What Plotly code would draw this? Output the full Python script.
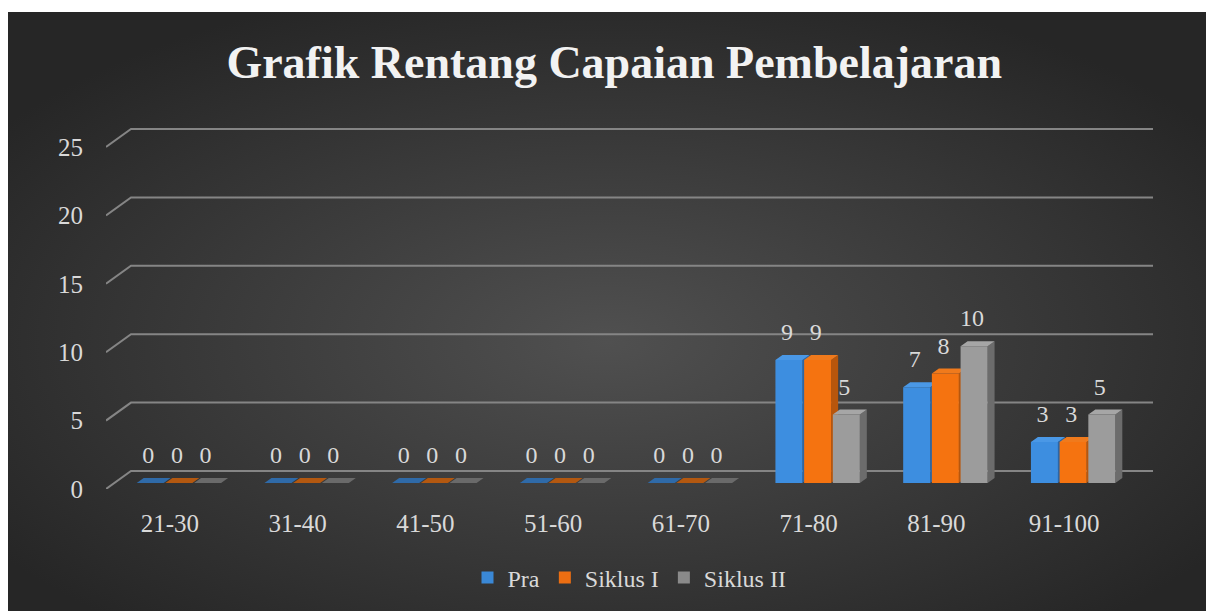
import base64
import plotly.graph_objects as go

# ---------------- data ----------------
categories = ["21-30", "31-40", "41-50", "51-60", "61-70", "71-80", "81-90", "91-100"]
pra = [0, 0, 0, 0, 0, 9, 7, 3]
siklus_1 = [0, 0, 0, 0, 0, 9, 8, 3]
siklus_2 = [0, 0, 0, 0, 0, 5, 10, 5]
series_names = ["Pra", "Siklus I", "Siklus II"]
y_ticks = [0, 5, 10, 15, 20, 25]
title_text = "Grafik Rentang Capaian Pembelajaran"

# ---------------- styles ----------------
front_colors = ["#3d8ee0", "#f57310", "#9c9c9c"]
top_colors = ["#4a98e6", "#f07a1c", "#a6a6a6"]
side_colors = ["#2c66a6", "#b8560c", "#6c6c6c"]
flat_colors = ["#2f6aa8", "#b35810", "#6a6a6a"]
legend_colors = ["#3a88d6", "#ec6e12", "#8a8a8a"]
grid_color = "#858585"
text_color = "#d9d9d9"
FONT = "Liberation Serif"

W, H = 1198, 599
ML, MR, MT, MB = 98, 53, 108, 122
PW = W - ML - MR
PH = H - MT - MB
BACK_DX_PX, BACK_DY_PX = 25, 18
PPX = (PW - BACK_DX_PX) / len(categories)
PPY = 13.68
DXB = BACK_DX_PX / PPX
DYB = BACK_DY_PX / PPY
X_MIN = -0.5
X_MAX_FRONT = len(categories) - 0.5

GROUP_SHIFT = 9 / PPX
BASE = 6 / PPY
BAR_W = 27 / PPX
BAR_SP = 28.7 / PPX
SX = 7 / PPX
SY = 5 / PPY
LABEL_OFF = 26 / PPY

fig = go.Figure()

# legend entries (bar symbols)
for k in range(3):
    fig.add_trace(go.Bar(x=[None], y=[None], name=series_names[k],
                         marker=dict(color=legend_colors[k], line=dict(width=0)),
                         showlegend=True, hoverinfo="skip"))

# back wall / floor grid lines with perspective connector
gx, gy = [], []
for v in y_ticks:
    gx += [X_MIN, X_MIN + DXB, X_MAX_FRONT + DXB, None]
    gy += [v, v + DYB, v + DYB, None]
fig.add_trace(go.Scatter(x=gx, y=gy, mode="lines", line=dict(color=grid_color, width=2),
                         showlegend=False, hoverinfo="skip"))

all_series = [pra, siklus_1, siklus_2]
lab_x, lab_y, lab_t = [], [], []
for k, vals in enumerate(all_series):
    fx, fy, sx_, sy_, tx, ty, zx, zy = [], [], [], [], [], [], [], []
    for i, v in enumerate(vals):
        xc = i + GROUP_SHIFT + (k - 1) * BAR_SP
        xl, xr = xc - BAR_W / 2, xc + BAR_W / 2
        b, t = BASE, BASE + v
        top_poly_x = [xl, xr, xr + SX, xl + SX, xl, None]
        top_poly_y = [t, t, t + SY, t + SY, t, None]
        if v > 0:
            fx += [xl, xr, xr, xl, xl, None]
            fy += [b, b, t, t, b, None]
            sx_ += [xr, xr + SX, xr + SX, xr, xr, None]
            sy_ += [b, b + SY, t + SY, t, b, None]
            tx += top_poly_x
            ty += top_poly_y
        else:
            zx += top_poly_x
            zy += top_poly_y
        lab_x.append(xc - 2 / PPX)
        lab_y.append(t + LABEL_OFF)
        lab_t.append(str(v))
    if zx:
        fig.add_trace(go.Scatter(x=zx, y=zy, mode="lines", fill="toself", fillcolor=flat_colors[k],
                                 line=dict(width=0, color=flat_colors[k]), showlegend=False,
                                 hoverinfo="skip"))
    if sx_:
        fig.add_trace(go.Scatter(x=sx_, y=sy_, mode="lines", fill="toself", fillcolor=side_colors[k],
                                 line=dict(width=0, color=side_colors[k]), showlegend=False,
                                 hoverinfo="skip"))
        fig.add_trace(go.Scatter(x=tx, y=ty, mode="lines", fill="toself", fillcolor=top_colors[k],
                                 line=dict(width=0, color=top_colors[k]), showlegend=False,
                                 hoverinfo="skip"))
    if fx:
        fig.add_trace(go.Scatter(x=fx, y=fy, mode="lines", fill="toself", fillcolor=front_colors[k],
                                 line=dict(width=0, color=front_colors[k]),
                                 name=series_names[k], showlegend=False, hoverinfo="skip"))

fig.add_trace(go.Scatter(x=lab_x, y=lab_y, mode="text", text=lab_t, textposition="middle center",
                         textfont=dict(family=FONT, size=24, color=text_color),
                         showlegend=False, hoverinfo="skip"))

# background radial gradient
svg = (
    '<svg xmlns="http://www.w3.org/2000/svg" width="1198" height="599" viewBox="0 0 1198 599" '
    'preserveAspectRatio="none"><defs><radialGradient id="g" cx="0.5" cy="0.55" r="0.62">'
    '<stop offset="0" stop-color="#505050"/><stop offset="1" stop-color="#262626"/>'
    '</radialGradient></defs><rect width="1198" height="599" fill="url(#g)"/></svg>'
)
src = "data:image/svg+xml;base64," + base64.b64encode(svg.encode()).decode()

fig.update_layout(
    width=W, height=H,
    margin=dict(l=ML, r=MR, t=MT, b=MB, pad=0),
    paper_bgcolor="#303030",
    plot_bgcolor="rgba(0,0,0,0)",
    barmode="overlay",
    images=[dict(source=src, xref="paper", yref="paper", x=-ML / PW, y=1 + MT / PH,
                 sizex=W / PW, sizey=H / PH, sizing="stretch", layer="below",
                 xanchor="left", yanchor="top")],
    title=dict(text=title_text, x=0.506, xanchor="center", y=1 - 50 / H, yanchor="middle",
               yref="container", font=dict(family=FONT, size=46, color="#f2f2f2", weight="bold")),
    xaxis=dict(range=[X_MIN, X_MAX_FRONT + DXB], tickmode="array",
               tickvals=list(range(len(categories))), ticktext=categories,
               showgrid=False, zeroline=False, showline=False,
               ticks="outside", ticklen=12, tickcolor="rgba(0,0,0,0)",
               tickfont=dict(family=FONT, size=25, color=text_color), fixedrange=True),
    yaxis=dict(range=[0, PH / PPY], tickmode="array", tickvals=y_ticks,
               showgrid=False, zeroline=False, showline=False,
               ticks="outside", ticklen=17, tickcolor="rgba(0,0,0,0)",
               tickfont=dict(family=FONT, size=25, color=text_color), fixedrange=True),
    legend=dict(orientation="h", x=0.5, xanchor="center", y=1 - 566 / H, yref="container",
                yanchor="middle", font=dict(family=FONT, size=24, color=text_color),
                bgcolor="rgba(0,0,0,0)", itemwidth=30, tracegroupgap=0),
    showlegend=True,
)

fig.write_html("out.html", post_script="document.body.style.margin='12px 0 0 8px';"
                                       "document.body.style.overflow='hidden';")
